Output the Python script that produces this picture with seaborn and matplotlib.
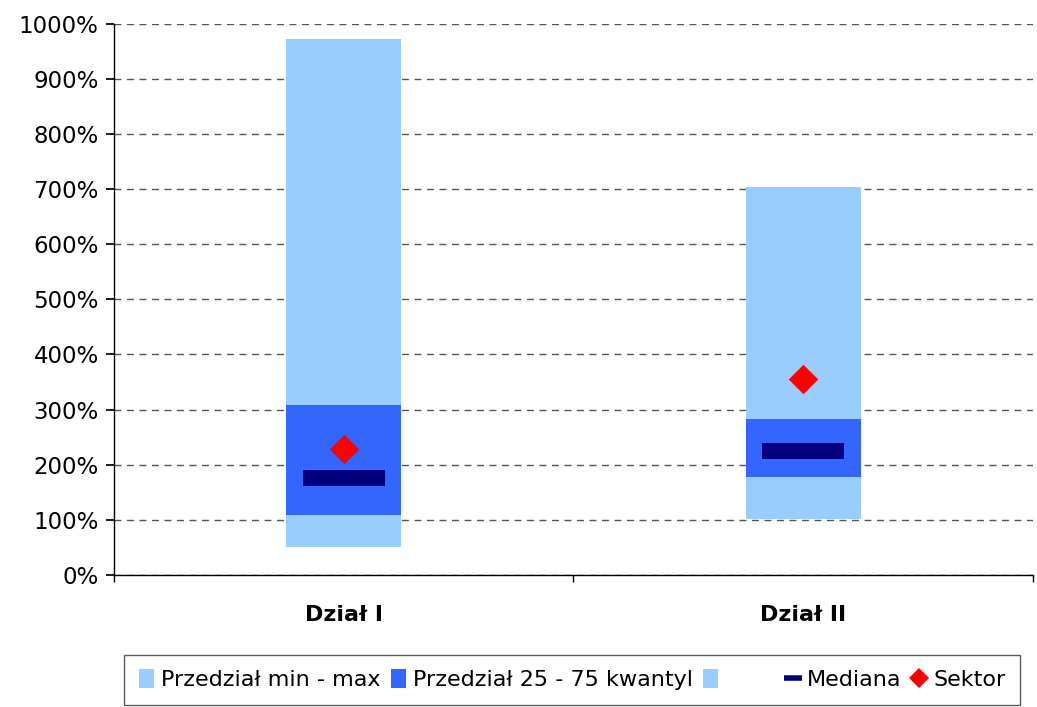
import matplotlib
matplotlib.use("Agg")
import matplotlib.pyplot as plt
import seaborn as sns
import numpy as np
import pandas as pd
from matplotlib.patches import Patch
from matplotlib.lines import Line2D
from matplotlib.ticker import FuncFormatter, MultipleLocator

categories = ["Dział I", "Dział II"]
min_vals = [51, 102]
q25_vals = [109, 178]
q75_vals = [308, 283]
max_vals = [973, 705]
median_vals = [176, 224]
sektor_vals = [229, 356]

light = "#99CCFF"
blue = "#3366FF"
navy = "#000080"
red = "#FF0000"

sns.set_theme(style="white")
plt.rcParams["font.family"] = ["DejaVu Sans"]
plt.rcParams["text.color"] = "black"
plt.rcParams["xtick.color"] = "black"
plt.rcParams["ytick.color"] = "black"
plt.rcParams["axes.labelcolor"] = "black"

fig, ax = plt.subplots(figsize=(10.37, 7.07), dpi=100)
fig.subplots_adjust(left=0.11, right=0.996, top=0.966, bottom=0.187)

df = pd.DataFrame({
    "cat": categories,
    "min": min_vals, "q25": q25_vals, "q75": q75_vals, "max": max_vals,
    "median": median_vals, "sektor": sektor_vals,
})
df["low"] = df["q25"] - df["min"]
df["mid"] = df["q75"] - df["q25"]
df["high"] = df["max"] - df["q75"]

w = 0.25
sns.barplot(data=df, x="cat", y="low", bottom=df["min"].values, color=light,
            width=w, saturation=1, ax=ax, linewidth=0, zorder=3)
sns.barplot(data=df, x="cat", y="mid", bottom=df["q25"].values, color=blue,
            width=w, saturation=1, ax=ax, linewidth=0, zorder=3)
sns.barplot(data=df, x="cat", y="high", bottom=df["q75"].values, color=light,
            width=w, saturation=1, ax=ax, linewidth=0, zorder=3)

sns.stripplot(data=df, x="cat", y="median", marker="_", s=59, linewidth=11.5,
              color=navy, jitter=False, ax=ax, zorder=4)
sns.stripplot(data=df, x="cat", y="sektor", marker="D", s=15, linewidth=0,
              color=red, jitter=False, ax=ax, zorder=5)

ax.set_xlim(-0.5, 1.5)
ax.set_ylim(0, 1000)
ax.yaxis.set_major_locator(MultipleLocator(100))
ax.yaxis.set_major_formatter(FuncFormatter(lambda v, p: f"{int(v)}%"))
ax.set_xlabel("")
ax.set_ylabel("")
ax.grid(axis="y", linestyle=(0, (5, 4)), color="#555555", linewidth=1, zorder=0)
ax.grid(axis="x", visible=False)
ax.set_axisbelow(True)

for s in ["top", "right"]:
    ax.spines[s].set_visible(False)
for s in ["left", "bottom"]:
    ax.spines[s].set_color("black")
    ax.spines[s].set_linewidth(1)

ax.set_xticks([0, 1])
ax.set_xticklabels(categories, fontsize=16, fontweight="bold")
ax.set_xticks([-0.5, 0.5, 1.5], minor=True)
ax.tick_params(axis="x", which="major", length=0, pad=22)
ax.tick_params(axis="x", which="minor", length=5, direction="out", color="black", bottom=True)
ax.tick_params(axis="y", which="major", length=6, direction="out", color="black", left=True,
               labelsize=16.5, pad=5)

handles = [
    Patch(facecolor=light, edgecolor="none"),
    Patch(facecolor=blue, edgecolor="none"),
    Patch(facecolor=light, edgecolor="none"),
    Line2D([], [], color=navy, marker="_", linestyle="none", markersize=13, markeredgewidth=4),
    Line2D([], [], color=red, marker="D", linestyle="none", markersize=10, markeredgewidth=0),
]
labels = ["Przedział min - max", "Przedział 25 - 75 kwantyl", "       ", "Mediana", "Sektor"]
leg = fig.legend(handles, labels, loc="lower center", bbox_to_anchor=(0.552, 0.0),
                 ncol=5, frameon=True, fancybox=False, fontsize=16,
                 handlelength=0.7, handleheight=0.9, handletextpad=0.3, columnspacing=0.45,
                 borderpad=0.65, borderaxespad=0.1, edgecolor="#333333")
leg.get_frame().set_linewidth(1)

fig.savefig("out.png", dpi=100)
